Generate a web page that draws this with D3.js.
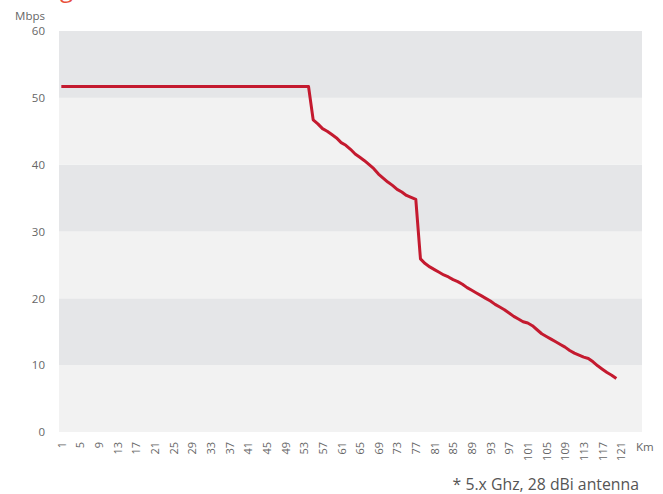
<!DOCTYPE html>
<html><head><meta charset="utf-8">
<script src="https://cdn.jsdelivr.net/npm/d3@7"></script>
<style>body{margin:0;background:#fff}svg{display:block}</style>
</head><body><svg id="c" width="663" height="494"></svg>
<script>
const categories = d3.range(1, 126);
const xTickLabels = d3.range(1, 122, 4);
const yTicks = [0, 10, 20, 30, 40, 50, 60];
const flatPart = new Array(54).fill(51.7);
const dropPart = [46.7, 46.1, 45.4, 45.0, 44.5, 44.0, 43.3, 42.9, 42.3, 41.6,
  41.1, 40.6, 40.0, 39.4, 38.6, 38.0, 37.4, 36.9, 36.3, 35.9, 35.4, 35.1, 34.8,
  25.9, 25.2, 24.7, 24.3, 23.9, 23.5, 23.2, 22.8, 22.5, 22.1, 21.6, 21.2, 20.8,
  20.4, 20.0, 19.6, 19.1, 18.7, 18.3, 17.8, 17.3, 16.9, 16.5, 16.3, 15.9, 15.3,
  14.7, 14.3, 13.9, 13.5, 13.1, 12.7, 12.2, 11.8, 11.5, 11.2, 11.0, 10.5, 9.9,
  9.4, 8.9, 8.5, 8.0];
const throughput = flatPart.concat(dropPart);

const svg = d3.select("#c");
const x = d3.scalePoint().domain(categories).range([59, 642]).padding(0.5);
const y = d3.scaleLinear().domain([0, 60]).range([432, 31]);

// bands
const bands = d3.range(0, 60, 10);
svg.append("g").selectAll("rect").data(bands).join("rect")
  .attr("x", 59).attr("width", 642 - 59)
  .attr("y", d => y(d + 10)).attr("height", d => y(d) - y(d + 10))
  .attr("fill", d => (d / 10) % 2 === 0 ? "#f2f2f2" : "#e5e6e8");

// y axis labels
const yAxis = d3.axisLeft(y).tickValues(yTicks).tickSize(0).tickPadding(0);
const gy = svg.append("g").attr("transform", "translate(45,0)").call(yAxis);
gy.select(".domain").remove();
gy.selectAll("text").attr("font-family", "Open Sans, sans-serif").attr("font-size", 11.5).attr("fill", "#666");
svg.append("text").attr("x", 45).attr("y", 20).attr("text-anchor", "end")
  .attr("font-family", "Open Sans, sans-serif").attr("font-size", 11.5).attr("fill", "#666").text("Mbps");

// x axis labels
const xAxis = d3.axisBottom(x).tickValues(xTickLabels).tickSize(0).tickPadding(0);
const gx = svg.append("g").attr("transform", "translate(0,442)").call(xAxis);
gx.select(".domain").remove();
gx.selectAll("text").attr("font-family", "Open Sans, sans-serif").attr("font-size", 11).attr("fill", "#666")
  .attr("transform", "rotate(-90)").attr("text-anchor", "end").attr("x", 0).attr("y", 0).attr("dy", "0.35em");
svg.append("text").attr("x", 636).attr("y", 451)
  .attr("font-family", "Open Sans, sans-serif").attr("font-size", 11.5).attr("fill", "#666").text("Km");

// line
const line = d3.line().x((d, i) => x(categories[i])).y(d => y(d));
svg.append("path").datum(throughput).attr("d", line)
  .attr("fill", "none").attr("stroke", "#c41a2f").attr("stroke-width", 3).attr("stroke-linejoin", "round");

// footnote
svg.append("text").attr("x", 639).attr("y", 490).attr("text-anchor", "end")
  .attr("font-family", "Open Sans, sans-serif").attr("font-size", 15.8).attr("fill", "#555")
  .text("* 5.x Ghz, 28 dBi antenna");

// clipped heading glyph at very top (cut off in the reference as well)
svg.append("text").attr("x", 60).attr("y", -3.5)
  .attr("font-family", "Open Sans, sans-serif").attr("font-size", 24).attr("fill", "#e8503a").text("g");
</script></body></html>
